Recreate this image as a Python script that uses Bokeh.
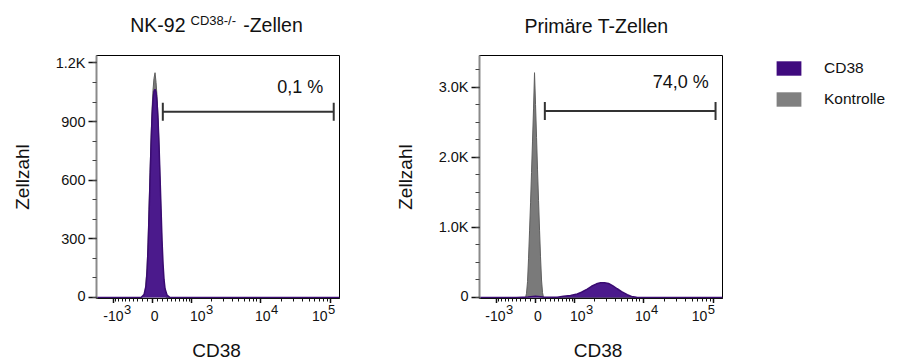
import numpy as np
from bokeh.plotting import figure
from bokeh.models import (FixedTicker, SingleIntervalTicker, Label, Whisker, TeeHead,
                          ColumnDataSource, Range1d, Legend, LegendItem)
from bokeh.layouts import row, column
from bokeh.embed import file_html
from bokeh.resources import INLINE

# ---------------- data (raw CD38 fluorescence, cell counts) ----------------
nk_ctrl_x = [-1800, -210, -148, -108, -88, -69, -49, -29, -10, 9, 28, 49, 69, 88,
             108, 128, 148, 169, 189, 210, 231, 272, 134000]
nk_ctrl_y = [0, 0, 20, 150, 280, 450, 640, 820, 960, 1060, 1120, 1150, 1100, 1030,
             920, 770, 590, 410, 250, 130, 60, 0, 0]
nk_cd38_x = [-1800, -230, -169, -128, -108, -88, -69, -49, -29, -10, 9, 28, 49, 69,
             88, 108, 128, 148, 169, 189, 210, 231, 252, 295, 361, 134000]
nk_cd38_y = [0, 0, 15, 60, 130, 250, 420, 600, 780, 920, 1010, 1055, 1065, 1050,
             1000, 910, 780, 620, 450, 290, 170, 90, 45, 12, 0, 0]

t_ctrl_x = [-1800, -199, -179, -158, -138, -118, -98, -79, -59, -39, -20, 0, 20, 39,
            59, 79, 98, 118, 138, 158, 134000]
t_ctrl_y = [0, 0, 60, 230, 560, 950, 1350, 1780, 2230, 2700, 3205, 2750, 2280, 1820,
            1380, 960, 580, 250, 70, 0, 0]
t_cd38_x = [-1800, -400, -150, -50, 0, 50, 150, 262, 461, 627, 845, 1094, 1276, 1567,
            1817, 2154, 2465, 2820, 3222, 3676, 4296, 4957, 5970, 6870, 8094, 9540, 134000]
t_cd38_y = [0, 0, 8, 15, 18, 15, 8, 3, 5, 18, 30, 50, 75, 120, 160, 195, 210, 212, 200,
            170, 125, 85, 40, 15, 3, 0, 0]

# gates: lower bound, upper bound, height ; percentage text
nk_gate = [205, 111000, 950]
nk_pct = "0,1 %"
t_gate = [185, 106800, 2658]
t_pct = "74,0 %"

legend_labels = ["CD38", "Kontrolle"]
x_axis_title = "CD38"
y_axis_title = "Zellzahl"
nk_title = ["NK-92", "CD38-/-", "-Zellen"]
t_title = "Primäre T-Zellen"

x_tick_values = [-1000, 0, 1000, 10000, 100000]
x_tick_base = ["-10", "0", "10", "10", "10"]
x_tick_exp = ["3", "", "3", "4", "5"]
x_minor_values = ([-v for v in range(100, 1000, 100)] + list(range(100, 1000, 100)) +
                  list(range(2000, 10000, 1000)) + list(range(20000, 100000, 10000)))

nk_y_labels = {0: "0", 300: "300", 600: "600", 900: "900", 1200: "1.2K"}
t_y_labels = {0: "0", 1000: "1.0K", 2000: "2.0K", 3000: "3.0K"}

# ---------------- styling ----------------
FONT = "Liberation Sans"
PURPLE = "#4b1a8c"
PURPLE_LINE = "#3a0b72"
GREY = "#7a7a7a"
GREY_LINE = "#5e5e5e"
LEG_PURPLE = "#3f0a7e"
LEG_GREY = "#808080"
INK = "#111111"

COF = 600.0  # arcsinh cofactor of the biexponential display scale
X_LO, X_HI = -1820, 134000
FW = 243          # frame size
TITLE_H = 54      # title strip height
TICK_H = 58       # tick-label strip height


def T(v):
    return np.arcsinh(np.asarray(v, dtype=float) / COF)


def strip(x_range, height, bl, br):
    s = figure(width=bl + FW + br, height=height, min_border_left=bl, min_border_right=br,
               min_border_top=0, min_border_bottom=0, x_range=x_range,
               y_range=Range1d(0, height), x_axis_location=None, y_axis_location=None,
               title=None, output_backend="svg", toolbar_location=None)
    s.xgrid.visible = False
    s.ygrid.visible = False
    s.outline_line_color = None
    return s


def txt(fig, x, y, text, size, align="left", dx=0, dy=0):
    fig.add_layout(Label(x=x, y=y, text=text, text_align=align, text_baseline="middle",
                         x_offset=dx, y_offset=dy, text_font=FONT,
                         text_font_size=size, text_color=INK))


def panel(ctrl_x, ctrl_y, cd_x, cd_y, y0, y1, yint, yminor, ylabels, gate, pct,
          pct_dx, pct_dy, lab_dx, xlab_dx, bl, br):
    xr = Range1d(float(T(X_LO)), float(T(X_HI)))
    p = figure(frame_width=FW, frame_height=FW, min_border_left=bl, min_border_right=br,
               min_border_top=1, min_border_bottom=5, title=None,
               x_range=xr, y_range=Range1d(y0, y1),
               output_backend="svg", toolbar_location=None)
    p.xgrid.visible = False
    p.ygrid.visible = False
    p.outline_line_color = "black"
    p.outline_line_width = 1
    p.background_fill_color = "white"
    p.border_fill_color = "white"

    gx = T(ctrl_x)
    p.varea(x=gx, y1=0, y2=ctrl_y, fill_color=GREY)
    p.line(gx, ctrl_y, line_color=GREY_LINE, line_width=1)
    cx = T(cd_x)
    p.varea(x=cx, y1=0, y2=cd_y, fill_color=PURPLE)
    p.line(cx, cd_y, line_color=PURPLE_LINE, line_width=1.5)

    # x axis (ticks only; labels are drawn in the strip below, sharing the x scale)
    xa = p.xaxis[0]
    xa.ticker = FixedTicker(ticks=[float(t) for t in T(x_tick_values)],
                            minor_ticks=[float(t) for t in T(x_minor_values)])
    xa.major_label_overrides = {float(t): "" for t in T(x_tick_values)}
    xa.major_label_text_font_size = "0px"
    xa.major_label_standoff = 0
    xa.major_tick_out = 5
    xa.major_tick_in = 0
    xa.minor_tick_out = 3
    xa.minor_tick_in = 0
    xa.major_tick_line_color = INK
    xa.major_tick_line_width = 1.5
    xa.minor_tick_line_color = INK
    xa.axis_line_color = INK

    # y axis
    ya = p.yaxis[0]
    ya.ticker = SingleIntervalTicker(interval=yint, num_minor_ticks=yminor)
    ya.major_label_overrides = ylabels
    ya.major_label_text_font = FONT
    ya.major_label_text_font_size = "14.5px"
    ya.major_label_text_color = INK
    ya.major_label_standoff = 3
    ya.major_tick_out = 8
    ya.major_tick_in = 0
    ya.minor_tick_out = 4
    ya.minor_tick_in = 0
    ya.major_tick_line_color = INK
    ya.major_tick_line_width = 1.5
    ya.minor_tick_line_color = "#444444"
    ya.axis_line_color = "#8a8a8a"
    ya.axis_line_width = 2
    ya.axis_label = y_axis_title
    ya.axis_label_text_font = FONT
    ya.axis_label_text_font_size = "19px"
    ya.axis_label_text_font_style = "normal"
    ya.axis_label_text_color = INK
    ya.axis_label_standoff = 20

    # gate
    src = ColumnDataSource(dict(base=[gate[2]], lower=[float(T(gate[0]))],
                                upper=[float(T(gate[1]))]))
    w = Whisker(source=src, base="base", lower="lower", upper="upper", dimension="width",
                line_color="#333333", line_width=2,
                lower_head=TeeHead(size=18, line_color="#333333", line_width=2),
                upper_head=TeeHead(size=18, line_color="#333333", line_width=2))
    p.add_layout(w)
    txt(p, float(T(gate[1])), gate[2], pct, "18px", align="right", dx=pct_dx, dy=pct_dy)

    # strip below: x tick labels (base + superscript exponent) and axis title
    s = strip(xr, TICK_H, bl, br)
    for v, b, e in zip(x_tick_values, x_tick_base, x_tick_exp):
        dx = lab_dx[v]
        if e:
            txt(s, float(T(v)), 46, b, "14px", align="right", dx=dx)
            txt(s, float(T(v)), 52.5, e, "13px", align="left", dx=dx + 0.5)
        else:
            txt(s, float(T(v)), 46, b, "14px", align="center", dx=dx)
    xc = float((T(X_LO) + T(X_HI)) / 2)
    txt(s, xc, 11, x_axis_title, "19px", align="center", dx=xlab_dx)
    return p, s, xr


left_dx = {-1000: 10.3, 0: 2, 1000: 13.7, 10000: 10.5, 100000: -3}
right_dx = {-1000: 9.3, 0: 2.3, 1000: 10.7, 10000: 7.5, 100000: -6.3}

p1, s1, xr1 = panel(nk_ctrl_x, nk_ctrl_y, nk_cd38_x, nk_cd38_y, -5, 1238, 300, 3,
                    nk_y_labels, nk_gate, nk_pct, -10.5, 25, left_dx, -1.5, 96, 41)
p2, s2, xr2 = panel(t_ctrl_x, t_ctrl_y, t_cd38_x, t_cd38_y, -14, 3450, 1000, 4,
                    t_y_labels, t_gate, t_pct, -6.7, 29, right_dx, -3, 99, 10)

XC = float((T(X_LO) + T(X_HI)) / 2)

# title strips
h1 = strip(xr1, TITLE_H, 96, 41)
txt(h1, XC, 29.8, nk_title[0], "19.5px", align="right", dx=-32.5)
txt(h1, XC, 34.5, nk_title[1], "13px", align="left", dx=-27.5)
txt(h1, XC, 29.8, nk_title[2], "19.5px", align="left", dx=25.2)

h2 = strip(xr2, TITLE_H, 99, 10)
txt(h2, XC, 28.2, t_title, "19.5px", align="center", dx=-4.5)

# legend panel
p3 = figure(width=165, height=361, x_range=Range1d(0, 1), y_range=Range1d(0, 1),
            x_axis_location=None, y_axis_location=None, title=None,
            min_border_left=41, min_border_top=58, min_border_right=0, min_border_bottom=0,
            output_backend="svg", toolbar_location=None)
p3.xgrid.visible = False
p3.ygrid.visible = False
p3.outline_line_color = None
# zero-size swatch glyphs: they only provide the legend's colour keys
r1 = p3.quad(left=[0], right=[0], top=[0], bottom=[0], fill_color=LEG_PURPLE,
             line_color=None)
r2 = p3.quad(left=[0], right=[0], top=[0], bottom=[0], fill_color=LEG_GREY,
             line_color=None)
leg = Legend(items=[LegendItem(label=legend_labels[0], renderers=[r1]),
                    LegendItem(label=legend_labels[1], renderers=[r2])],
             location="top_left", padding=0, margin=0, spacing=11,
             glyph_width=31, glyph_height=18, label_standoff=20, label_height=20,
             label_text_font=FONT, label_text_font_size="15.5px", label_text_color=INK,
             border_line_color=None, background_fill_alpha=0)
p3.add_layout(leg)

layout = row(column(h1, p1, s1), column(h2, p2, s2), p3)
open("out.html", "w").write(file_html(layout, INLINE))
